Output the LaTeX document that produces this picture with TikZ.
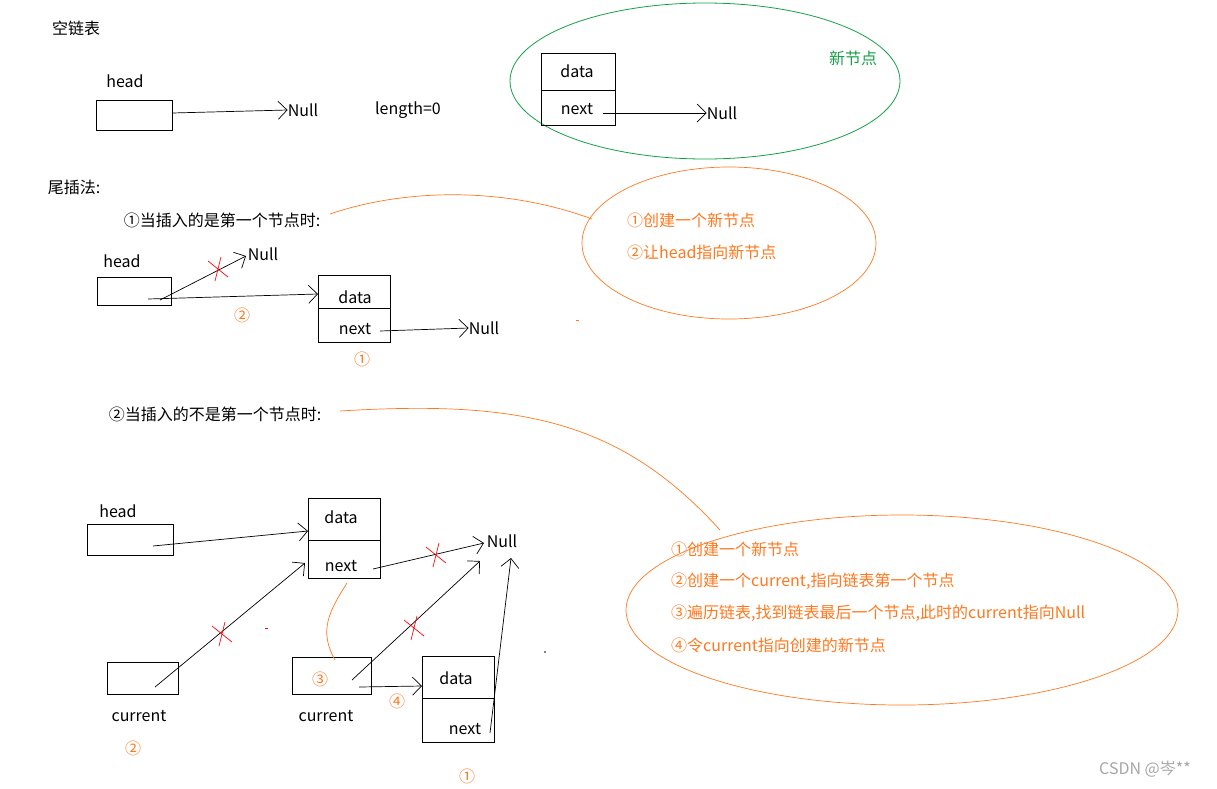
\documentclass[tikz,border=0pt]{standalone}
\usepackage{fontspec}
\setmainfont{Noto Sans CJK SC}
\usetikzlibrary{arrows.meta}
\definecolor{og}{RGB}{255,120,30}
\definecolor{gn}{RGB}{20,160,70}
\tikzset{
 t/.style={font=\fontsize{16}{18}\selectfont,inner sep=0pt},
 ot/.style={t,text=og},
 bx/.style={draw,thick=false,line width=0.8pt},
 ar/.style={line width=0.7pt,-{Straight Barb[length=9pt,width=18pt,line width=0.7pt]}},
 ln/.style={line width=0.7pt},
 oc/.style={draw=og,line width=0.7pt},
 xx/.style={draw=red,line width=0.7pt}
}
\newcommand{\crossmark}[1]{\draw[xx] ($(#1)+(-10,-8)$) -- ($(#1)+(10,8)$) ($(#1)+(3,-12)$) -- ($(#1)+(-3,12)$);}
\usetikzlibrary{calc}
\begin{document}
\begin{tikzpicture}[x=1pt,y=-1pt]
\useasboundingbox (0,0) rectangle (1217,788);
% top
\node[t] (empty) at (76,28) {空链表};
\node[t] (hl0) at (125,81) {head};
\node[bx,minimum width=76pt,minimum height=30pt] (h0) at (134,115) {};
\node[t] (n0) at (303,110) {Null};
\node[t] (len) at (408,110) {length=0};
\draw[ar] (h0.center) ++(38,-2) -- (n0.west);
\draw[gn,line width=0.8pt] (705,81) ellipse [x radius=195,y radius=78];
\node[t,text=gn] (newn) at (853,58) {新节点};
\draw[bx] (541,53) rectangle (615,125); \draw[ln] (541,90) -- (615,90);
\node[t] (d0) at (577,71) {data};
\node[t] (nx0) at (577,109) {next};
\node[t] (n1) at (722,113) {Null};
\coordinate (s1) at (603,113);
\draw[ar] (s1) -- (n1.west);
% tail insert
\node[t] (wcf) at (74,187) {尾插法:};
\node[t] (c1) at (222,220) {①当插入的是第一个节点时:};
\draw[oc] (729,243) ellipse [x radius=147,y radius=76];
\node[ot,anchor=west] (e11) at (627,220) {①创建一个新节点};
\node[ot,anchor=west] (e12) at (627,252) {②让head指向新节点};
\draw[oc] (592,219) .. controls (500,185) and (400,190) .. (330,214);
\node[t] (hl1) at (122,261) {head};
\draw[bx] (97,277) rectangle (171,305);
\node[t] (n2) at (263,254) {Null};
\coordinate (a1) at (160,300); \coordinate (a2) at (148,299);
\draw[ar] (a1) -- (246,256);
\crossmark{218,269}
\draw[bx] (318,275) rectangle (390,342); \draw[ln] (318,308) -- (390,308);
\node[t] (d1) at (355,297) {data};
\node[t] (nx1) at (355,329) {next};
\draw[ar] (a2) -- (318,294);
\node[ot] (o2) at (242,315) {②};
\node[t] (n3) at (484,328) {Null};
\draw[ar] (380,331) -- (n3.west);
\node[ot] (o1) at (362,359) {①};
\draw[og,line width=0.6pt] (576,320) -- (579,320);
% second case
\node[t] (c2) at (215,414) {②当插入的不是第一个节点时:};
\draw[oc] (340,411) .. controls (520,400) and (620,420) .. (720,530);
\draw[oc] (902,610) ellipse [x radius=276,y radius=95];
\node[ot,anchor=west] (e21) at (671,549) {①创建一个新节点};
\node[ot,anchor=west] (e22) at (671,581) {②创建一个current,指向链表第一个节点};
\node[ot,anchor=west] (e23) at (671,613) {③遍历链表,找到链表最后一个节点,此时的current指向Null};
\node[ot,anchor=west] (e24) at (671,645) {④令current指向创建的新节点};
\node[t] (hl2) at (118,511) {head};
\draw[bx] (87,524) rectangle (173,555);
\draw[bx] (308,498) rectangle (380,578); \draw[ln] (308,540) -- (380,540);
\node[t] (d2) at (341,517) {data};
\node[t] (nx2) at (341,566) {next};
\draw[ar] (153,546) -- (308,531);
\node[t] (n4) at (502,541) {Null};
\draw[ar] (373,569) -- (484,543);
\crossmark{436,555}
\draw[bx] (107,662) rectangle (178,694);
\node[t] (cl1) at (139,716) {current};
\node[ot] (o3) at (133,748) {②};
\draw[ar] (155,687) -- (305,563);
\crossmark{222,634}
\draw[red,line width=0.6pt] (265,628) -- (268,628);
\draw[bx] (292,657) rectangle (371,694);
\node[ot] (o4) at (320,679) {③};
\node[t] (cl2) at (326,716) {current};
\draw[oc] (347,583) .. controls (330,610) and (318,630) .. (335,660);
\draw[ar] (352,680) -- (480,561);
\crossmark{414,628}
\draw[bx] (422,656) rectangle (494,742); \draw[ln] (422,698) -- (494,698);
\node[t] (d3) at (456,678) {data};
\node[t] (nx3) at (465,729) {next};
\draw[ar] (359,687) -- (422,686);
\node[ot] (o5) at (397,701) {④};
\draw[ar] (490,733) -- (511,558);
\node[ot] (o6) at (467,776) {①};
\fill (545,652) circle (0.8);
\node[t,text=gray!70] (csdn) at (1145,769) {CSDN @岑**};
\end{tikzpicture}
\end{document}
